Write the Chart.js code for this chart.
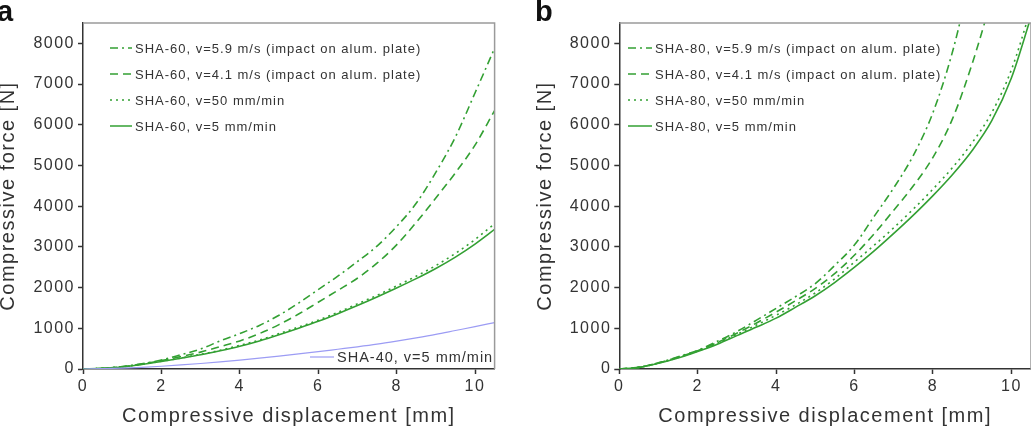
<!DOCTYPE html>
<html><head><meta charset="utf-8">
<script src="https://cdn.jsdelivr.net/npm/chart.js@4.4.1/dist/chart.umd.min.js"></script>
<style>
html,body{margin:0;padding:0;background:#fff;}
#wrap{position:relative;width:1031px;height:432px;overflow:hidden;background:#fff;}
#ca{position:absolute;left:0;top:0;}
#cb{position:absolute;left:515px;top:0;}
</style></head><body>
<div id="wrap"><canvas id="ca" width="515" height="432"></canvas><canvas id="cb" width="516" height="432"></canvas></div>
<script>
// ---- data (displacement in mm, force in N) ----
const disp = [0,0.5,1,1.5,2,2.5,3,3.5,4,4.5,5,5.5,6,6.5,7,7.5,8,8.5,9,9.5,10,10.5];
const xTickVals = [0,2,4,6,8,10];
const yTickVals = [0,1000,2000,3000,4000,5000,6000,7000,8000];

// panel a: SHA-60 (+ SHA-40)
const a_sha60_v59 = [0,15,60,130,220,350,490,690,870,1070,1320,1620,1950,2280,2640,3020,3500,4070,4830,5700,6780,7880];
const a_sha60_v41 = [0,15,55,120,205,305,415,550,690,870,1090,1350,1640,1930,2230,2600,3050,3600,4200,4820,5500,6350];
const a_sha60_v50 = [0,15,55,115,190,270,360,460,580,710,870,1030,1200,1390,1600,1810,2040,2280,2540,2840,3180,3570];
const a_sha60_v5  = [0,15,50,110,185,265,350,450,560,690,840,1000,1170,1360,1560,1770,1990,2220,2470,2750,3070,3430];
const a_sha40_v5  = [0,8,22,42,68,100,135,175,220,268,318,370,425,485,545,610,685,765,850,945,1040,1140];

// panel b: SHA-80
const b_sha80_v59 = [0,40,150,300,460,680,920,1200,1490,1780,2100,2550,3050,3750,4450,5250,6300,7800,9800,null,null,null];
const b_sha80_v41 = [0,40,150,290,450,650,880,1130,1400,1680,1980,2350,2800,3320,3900,4500,5200,6150,7500,9100,null,null];
const b_sha80_v50 = [0,40,145,280,440,630,850,1080,1320,1580,1870,2220,2630,3040,3470,3930,4420,4950,5560,6300,7350,8850];
const b_sha80_v5  = [0,40,140,270,430,610,820,1030,1250,1520,1800,2130,2500,2900,3330,3780,4260,4780,5370,6100,7150,8650];

const labelsA = ['SHA-60, v=5.9 m/s (impact on alum. plate)','SHA-60, v=4.1 m/s (impact on alum. plate)','SHA-60, v=50 mm/min','SHA-60, v=5 mm/min'];
const labelsB = ['SHA-80, v=5.9 m/s (impact on alum. plate)','SHA-80, v=4.1 m/s (impact on alum. plate)','SHA-80, v=50 mm/min','SHA-80, v=5 mm/min'];
const label40 = 'SHA-40, v=5 mm/min';
const xTitle = 'Compressive displacement [mm]';
const yTitle = 'Compressive force [N]';

// ---- styles ----
const FONT = '"Liberation Sans", Arial, sans-serif';
const GREEN = '#33a033';
const BLUE = '#9c9cf4';
const TXT = '#333';
const DASHES = [[8,4,2,4],[8,5],[2,4],[]];

function ds(label, vals, color, dash, width){
  return {label, data: disp.map((x,i)=>({x, y: vals[i]})), borderColor: color, borderDash: dash,
          borderWidth: width, pointRadius: 0, fill: false, spanGaps: false,
          cubicInterpolationMode: 'monotone'};
}

function deco(cfg){
  return {
    id: 'deco',
    beforeDraw(chart){ chart.ctx.letterSpacing = '1.5px'; },
    afterDraw(chart){
      const ctx = chart.ctx, a = chart.chartArea;
      ctx.save();
      // top & right frame
      ctx.setLineDash([]);
      ctx.strokeStyle = '#9a9a9a'; ctx.lineWidth = 1.5;
      ctx.beginPath(); ctx.moveTo(a.left, a.top); ctx.lineTo(a.right, a.top); ctx.lineTo(a.right, a.bottom); ctx.stroke();
      ctx.fillStyle = TXT;
      // x title
      ctx.letterSpacing = '1.5px';
      ctx.font = '20px ' + FONT; ctx.textAlign = 'center'; ctx.textBaseline = 'alphabetic';
      ctx.fillText(xTitle, (a.left + a.right)/2, 422);
      // y title
      ctx.save(); ctx.translate(cfg.yTitleX, (a.top + a.bottom)/2); ctx.rotate(-Math.PI/2);
      ctx.fillText(yTitle, 0, 0); ctx.restore();
      // panel letter
      ctx.letterSpacing = '0px';
      ctx.font = 'bold 29px ' + FONT; ctx.textAlign = 'left';
      ctx.fillStyle = '#111';
      ctx.fillText(cfg.letter, cfg.letterX, 21);
      // legend
      ctx.textBaseline = 'middle';
      cfg.legend.forEach(it => {
        ctx.strokeStyle = it.color; ctx.lineWidth = it.width; ctx.setLineDash(it.dash);
        ctx.beginPath(); ctx.moveTo(it.x1, it.y); ctx.lineTo(it.x2, it.y); ctx.stroke();
        ctx.setLineDash([]);
        ctx.font = it.size + 'px ' + FONT; ctx.letterSpacing = '1px';
        ctx.fillStyle = TXT; ctx.fillText(it.text, it.tx, it.y + 1);
      });
      ctx.restore();
    }
  };
}

function options(yW, padRight){
  const tickFont = {family: FONT, size: 16};
  const grid = {display: true, drawOnChartArea: false, drawTicks: true, tickLength: 5, tickColor: '#333', tickWidth: 1.5};
  const border = {display: true, color: '#333', width: 1.5};
  return {
    responsive: false, animation: false, devicePixelRatio: 1,
    layout: {padding: {left: 0, right: padRight, top: 23, bottom: 0}},
    plugins: {legend: {display: false}, tooltip: {enabled: false}},
    elements: {point: {radius: 0}},
    scales: {
      x: {type: 'linear', min: 0, max: 10.5,
          afterFit: s => { s.height = 63; },
          afterBuildTicks: s => { s.ticks = xTickVals.map(v => ({value: v})); },
          grid, border,
          ticks: {font: tickFont, color: TXT, padding: 3, maxRotation: 0, autoSkip: false, callback: v => String(v)}},
      y: {type: 'linear', min: 0, max: 8500,
          afterFit: s => { s.width = yW; },
          afterBuildTicks: s => { s.ticks = yTickVals.map(v => ({value: v})); },
          grid, border,
          ticks: {font: tickFont, color: TXT, padding: 3, autoSkip: false, callback: v => String(v)}}
    }
  };
}

const legA = [
  {x1:110,x2:132,y:48,tx:135,text:labelsA[0],color:GREEN,dash:DASHES[0],width:1.5,size:13},
  {x1:110,x2:132,y:74,tx:135,text:labelsA[1],color:GREEN,dash:DASHES[1],width:1.5,size:13},
  {x1:110,x2:132,y:100,tx:135,text:labelsA[2],color:GREEN,dash:DASHES[2],width:1.5,size:13},
  {x1:110,x2:132,y:126,tx:135,text:labelsA[3],color:GREEN,dash:DASHES[3],width:1.5,size:13},
  {x1:310,x2:334,y:357,tx:337,text:label40,color:BLUE,dash:[],width:1.2,size:14.5}
];
const legB = [
  {x1:113,x2:137,y:48,tx:140,text:labelsB[0],color:GREEN,dash:DASHES[0],width:1.5,size:13},
  {x1:113,x2:137,y:74,tx:140,text:labelsB[1],color:GREEN,dash:DASHES[1],width:1.5,size:13},
  {x1:113,x2:137,y:100,tx:140,text:labelsB[2],color:GREEN,dash:DASHES[2],width:1.5,size:13},
  {x1:113,x2:137,y:126,tx:140,text:labelsB[3],color:GREEN,dash:DASHES[3],width:1.5,size:13}
];

new Chart(document.getElementById('ca'), {
  type: 'line',
  data: {datasets: [
    ds(label40, a_sha40_v5, BLUE, [], 1.2),
    ds(labelsA[3], a_sha60_v5, GREEN, DASHES[3], 1.6),
    ds(labelsA[2], a_sha60_v50, GREEN, DASHES[2], 1.6),
    ds(labelsA[1], a_sha60_v41, GREEN, DASHES[1], 1.6),
    ds(labelsA[0], a_sha60_v59, GREEN, DASHES[0], 1.6)
  ]},
  options: options(83, 20.4),
  plugins: [deco({letter: 'a', letterX: -3, yTitleX: 14, legend: legA})]
});

new Chart(document.getElementById('cb'), {
  type: 'line',
  data: {datasets: [
    ds(labelsB[3], b_sha80_v5, GREEN, DASHES[3], 1.6),
    ds(labelsB[2], b_sha80_v50, GREEN, DASHES[2], 1.6),
    ds(labelsB[1], b_sha80_v41, GREEN, DASHES[1], 1.6),
    ds(labelsB[0], b_sha80_v59, GREEN, DASHES[0], 1.6)
  ]},
  options: options(104.3, 0),
  plugins: [deco({letter: 'b', letterX: 20, yTitleX: 36, legend: legB})]
});
</script>
</body></html>
